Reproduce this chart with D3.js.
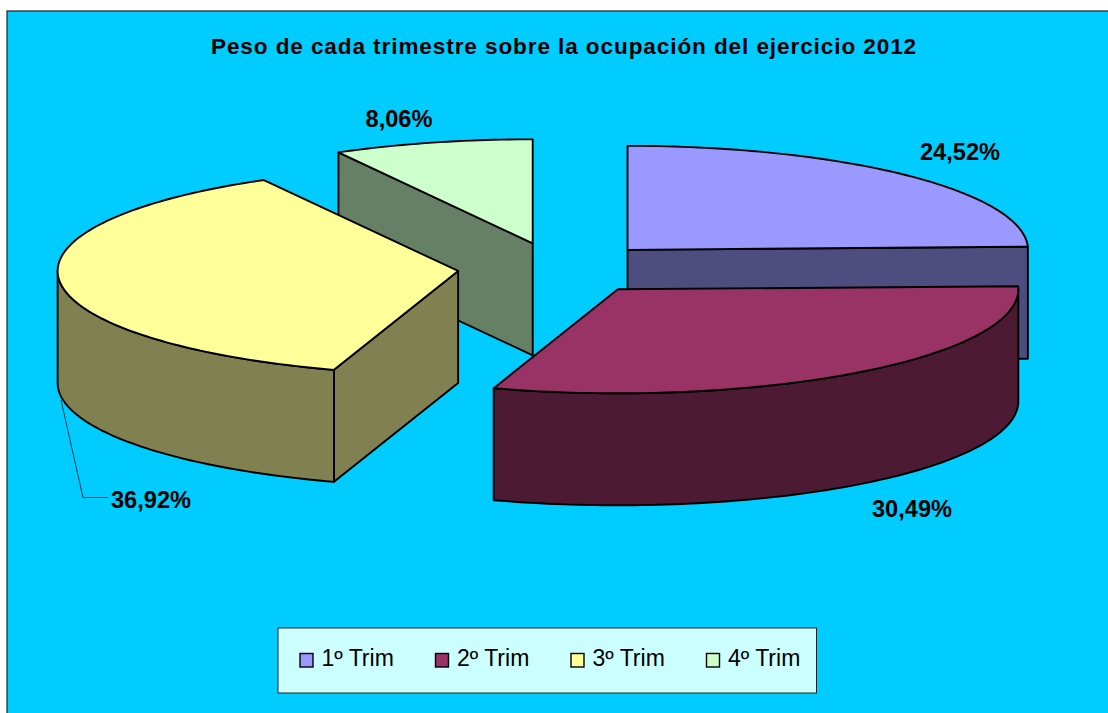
<!DOCTYPE html>
<html><head><meta charset="utf-8">
<script src="https://cdn.jsdelivr.net/npm/d3@7"></script>
<style>html,body{margin:0;padding:0;background:#fff;overflow:hidden}svg{display:block;font-family:"Liberation Sans",Arial,sans-serif}</style>
</head><body><div id="chart"></div>
<script>
const titleText = "Peso de cada trimestre sobre la ocupación del ejercicio 2012";
const categories = ["1º Trim","2º Trim","3º Trim","4º Trim"];
const values = [24.52,30.49,36.92,8.06];
const valueLabels = ["24,52%","30,49%","36,92%","8,06%"];
const topColors = ["#9999FF","#993366","#FFFF99","#CCFFCC"];
const wallColors = ["#4D4D80","#4D1A33","#808050","#668066"];

const W=1108,H=713;
const svg=d3.select("#chart").append("svg").attr("width",W).attr("height",H);
svg.append("rect").attr("x",7).attr("y",11).attr("width",W+10).attr("height",H+10)
  .attr("fill","#00CCFF").attr("stroke","#222").attr("stroke-width",1.2);
svg.append("text").attr("x",564).attr("y",54).attr("text-anchor","middle")
  .attr("font-size",22.5).attr("font-weight","bold").attr("letter-spacing",0.93).text(titleText);

// unit-circle pie projected to an oblique ellipse
const x=d3.scaleLinear().domain([-1,1]).range([157.3,958.3]);
const y=d3.scaleLinear().domain([-1,1]).range([164.5,372.5]);
const depth=112, explode=0.25;
const arcs=d3.pie().sort(null).value(d=>d)(values);
const line=d3.line();
function ring(d){
  const mid=(d.startAngle+d.endAngle)/2;
  const ox=explode*Math.sin(mid), oy=-explode*Math.cos(mid);
  const pt=a=>[x(ox+Math.sin(a)),y(oy-Math.cos(a))];
  return {apex:[x(ox),y(oy)],pt};
}
function arcPts(g,a0,a1){
  const n=Math.max(2,Math.ceil(Math.abs(a1-a0)/0.02));
  return d3.range(n+1).map(i=>g.pt(a0+(a1-a0)*i/n));
}
const down=p=>[p[0],p[1]+depth];
const stroke={stroke:"#000","stroke-width":1.9,"stroke-linejoin":"round"};
function poly(pts,fill){
  const s=svg.append("path").attr("d",line(pts)+"Z").attr("fill",fill);
  Object.entries(stroke).forEach(([k,v])=>s.attr(k,v));
}
// painter's order: back slices first
[3,0,2,1].forEach(i=>{
  const d=arcs[i], g=ring(d), a0=d.startAngle, a1=d.endAngle;
  const wall=wallColors[i];
  // cut faces that look towards the viewer
  if(Math.sin(a0)<0){const p=g.pt(a0);poly([g.apex,p,down(p),down(g.apex)],wall);}
  if(Math.sin(a1)>0){const p=g.pt(a1);poly([g.apex,p,down(p),down(g.apex)],wall);}
  // outer wall on the front half of the rim
  const f0=Math.max(a0,Math.PI/2), f1=Math.min(a1,Math.PI*1.5);
  if(f1>f0){const r=arcPts(g,f0,f1);poly(r.concat(r.slice().reverse().map(down)),wall);}
  poly([g.apex].concat(arcPts(g,a0,a1)),topColors[i]);
});

// data labels
const labelPos=[[960,160],[912,517],[151,508],[399,127]];
svg.append("path").attr("d",line([[61,400],[83,497.5],[108,497.5]])).attr("fill","none")
  .attr("stroke","#06404f").attr("stroke-width",1);
svg.selectAll("text.lab").data(valueLabels).join("text").attr("class","lab")
  .attr("x",(d,i)=>labelPos[i][0]).attr("y",(d,i)=>labelPos[i][1])
  .attr("text-anchor","middle").attr("font-size",23.6).attr("font-weight","bold")
  .text(d=>d);

// legend
svg.append("rect").attr("x",278).attr("y",628).attr("width",538.5).attr("height",65)
  .attr("fill","#CCFFFF").attr("stroke","#222").attr("stroke-width",1);
const lx=d3.scalePoint().domain(categories).range([300,706.5]);
const items=svg.selectAll("g.leg").data(categories).join("g").attr("class","leg")
  .attr("transform",d=>`translate(${lx(d)},653.5)`);
items.append("rect").attr("width",13).attr("height",13.5)
  .attr("fill",(d,i)=>topColors[i]).attr("stroke","#000").attr("stroke-width",1.4);
items.append("text").attr("x",21.5).attr("y",12.5).attr("font-size",23).text(d=>d);
</script></body></html>
